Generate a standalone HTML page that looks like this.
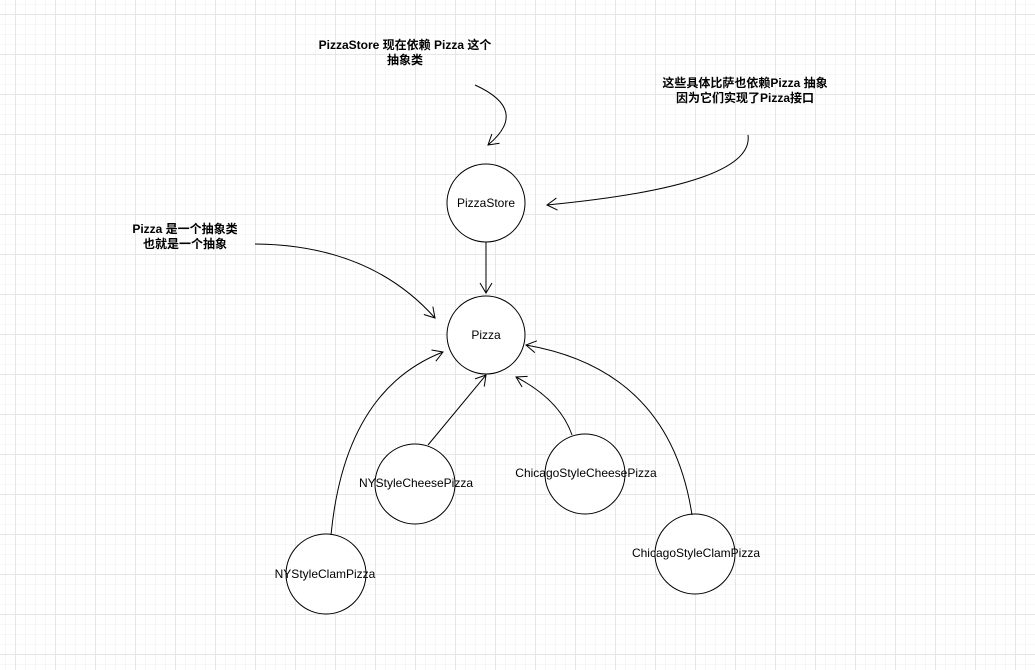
<!DOCTYPE html><html><head><meta charset="utf-8"><style>
body{margin:0;width:1035px;height:670px;overflow:hidden;background:#fff;
background-image:linear-gradient(#e6e6e6 1px,transparent 1px),linear-gradient(90deg,#e6e6e6 1px,transparent 1px),linear-gradient(#f6f6f6 1px,transparent 1px),linear-gradient(90deg,#f6f6f6 1px,transparent 1px);
background-size:40px 40px,40px 40px,10px 10px,10px 10px;background-position:0 14px,15px 0,0 4px,5px 0;}
svg{position:absolute;left:0;top:0}
text{font-family:"Liberation Sans","Noto Sans CJK SC",sans-serif;font-size:12px;fill:#000}
.b{font-weight:bold}
</style></head><body>
<svg width="1035" height="670" viewBox="0 0 1035 670">
<defs><marker id="a" markerWidth="14" markerHeight="14" refX="11" refY="7" orient="auto" markerUnits="userSpaceOnUse"><path d="M1,1 L11,7 L1,13" fill="none" stroke="#000" stroke-width="1"/></marker></defs>
<g fill="#fff" stroke="#000" stroke-width="1">
<circle cx="486" cy="203" r="39"/><circle cx="486" cy="335" r="39"/>
<circle cx="415" cy="484" r="40"/><circle cx="585" cy="474" r="40"/>
<circle cx="326" cy="574" r="40"/><circle cx="695" cy="554" r="40"/>
</g>
<g fill="none" stroke="#000" stroke-width="1" marker-end="url(#a)">
<path d="M486,242 L486,293"/>
<path d="M331,535 Q345,390 443,352"/>
<path d="M428,445 L486,375"/>
<path d="M572,435 Q560,400 516,377"/>
<path d="M692,515 Q670,370 526,345"/>
<path d="M255,244 Q370,245 435,318"/>
<path d="M475,85 Q530,110 488,145"/>
<path d="M748,135 Q755,185 547,205"/>
</g>
<g text-anchor="middle">
<text x="486" y="207">PizzaStore</text><text x="486" y="339">Pizza</text>
<text x="416" y="487">NYStyleCheesePizza</text><text x="586" y="477">ChicagoStyleCheesePizza</text>
<text x="325" y="578">NYStyleClamPizza</text><text x="696" y="557">ChicagoStyleClamPizza</text>
<text class="b" x="405" y="49">PizzaStore 现在依赖 Pizza 这个</text><text class="b" x="405" y="64">抽象类</text>
<text class="b" x="745" y="87">这些具体比萨也依赖Pizza 抽象</text><text class="b" x="745" y="102">因为它们实现了Pizza接口</text>
<text class="b" x="185" y="233">Pizza 是一个抽象类</text><text class="b" x="185" y="248">也就是一个抽象</text>
</g>
</svg></body></html>
